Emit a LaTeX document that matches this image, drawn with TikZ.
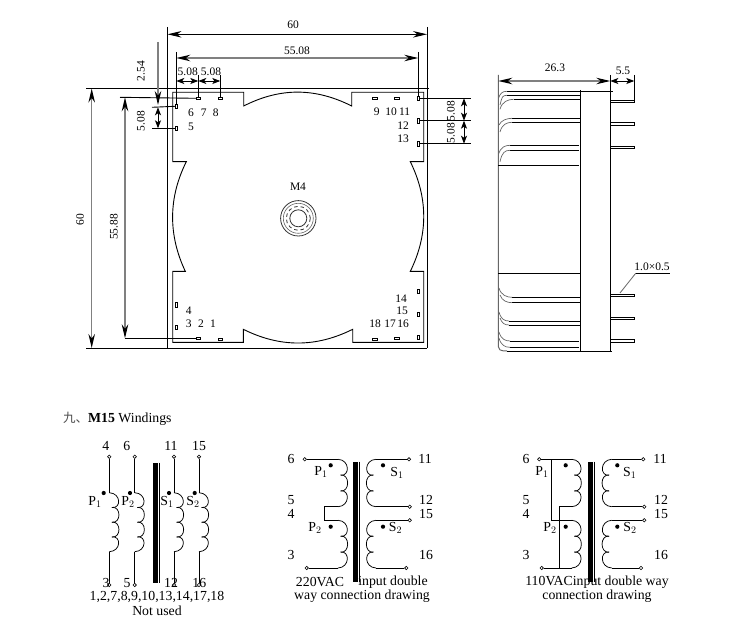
\documentclass[tikz,border=0pt]{standalone}
\usepackage{fontspec}
\setmainfont{Liberation Serif}
\newfontfamily\cjkfont{Noto Sans CJK SC}
\usetikzlibrary{arrows.meta}
\tikzset{
  txt/.style={inner sep=0pt,font=\fontsize{11.5}{12}\selectfont},
  big/.style={inner sep=0pt,font=\fontsize{13.8}{15}\selectfont},
  ln/.style={draw=black,line width=0.9pt},
  dimln/.style={draw=black!50,line width=1.2pt,{Stealth[length=14pt,width=6.5pt,inset=4.5pt,color=black]}-{Stealth[length=14pt,width=6.5pt,inset=4.5pt,color=black]}},
  dimblk/.style={draw=black,line width=.9pt,{Stealth[length=14pt,width=6.5pt,inset=4.5pt]}-{Stealth[length=14pt,width=6.5pt,inset=4.5pt]}},
  dimsh/.style={draw=black,line width=.9pt,{Stealth[length=8pt,width=6pt,inset=2pt]}-{Stealth[length=8pt,width=6pt,inset=2pt]}},
  pad/.style={draw=black,line width=.7pt,inner sep=0pt,fill=white,minimum width=4.4pt,minimum height=2.4pt},
  padv/.style={draw=black,line width=.7pt,inner sep=0pt,fill=white,minimum width=2.4pt,minimum height=4.4pt},
  term/.style={circle,draw=black,line width=.6pt,inner sep=0pt,minimum size=3.4pt,fill=white},
  dotn/.style={circle,fill=black,inner sep=0pt,minimum size=4.2pt},
  grv/.style={draw=black!60,line width=.7pt},
  wire/.style={draw=black,line width=.75pt},
  pin/.style={draw=black,line width=.8pt,fill=white},
}
% coil: x, ytop, ybottom, direction, humps
\newcommand{\coilv}[5]{%
  \pgfmathsetmacro{\hh}{(#3-#2)/#5}%
  \begin{scope}[shift={(#1,#2)},xscale=#4]
    \foreach \i in {1,...,#5}{%
      \pgfmathsetmacro{\ya}{(\i-1)*\hh}%
      \pgfmathsetmacro{\yb}{\i*\hh}%
      \ifnum\i=1
        \pgfmathsetmacro{\xa}{0}\pgfmathsetmacro{\cya}{\ya+.5}%
      \else
        \pgfmathsetmacro{\xa}{2.6}\pgfmathsetmacro{\cya}{\ya-1.5}%
      \fi
      \ifnum\i=#5
        \pgfmathsetmacro{\xb}{0}\pgfmathsetmacro{\cyb}{\yb-.5}%
      \else
        \pgfmathsetmacro{\xb}{2.6}\pgfmathsetmacro{\cyb}{\yb+1.5}%
      \fi
      \draw[wire] (\xa,\ya) .. controls (12,\cya) and (12,\cyb) .. (\xb,\yb);
    }
  \end{scope}}
\begin{document}
\begin{tikzpicture}[x=1pt,y=-1pt]
\useasboundingbox (0,0) rectangle (752,639);
\fill[white] (0,0) rectangle (752,639);
% reference lines of the plan
\coordinate (tl) at (167.5,27); \coordinate (bl) at (167.5,348);
\coordinate (tr) at (427,27); \coordinate (br) at (427,348);
\coordinate (ol) at (86,88.5); \coordinate (or) at (429,88.5);
\coordinate (ul) at (86,348);
\draw[ln] (tl) -- (bl); \draw[ln] (tr) -- (br);
\draw[ln] (ol) -- (or); \draw[ln] (ul) -- (br);
% outline
\draw[ln,line join=miter]
 (172.7,161.7) -- (172.7,92.3) -- (243.7,92.3) -- (243.7,106)
 .. controls (280,87.5) and (315,87.5) .. (351.7,106)
 -- (351.7,92.3) -- (423.7,92.3) -- (423.7,161.7) -- (410.3,161.7)
 .. controls (428.2,198) and (428.2,235) .. (410.3,271.3)
 -- (423.7,271.3) -- (423.7,342.3) -- (352.7,342.3) -- (352.7,329.3)
 .. controls (316,347.6) and (280,347.6) .. (243.3,329.3)
 -- (243.3,342.3) -- (172.7,342.3) -- (172.7,271.3) -- (185.3,271.3)
 .. controls (168.2,235) and (168.2,198) .. (186.3,161.7)
 -- cycle;
% extension lines
\coordinate (e55t) at (176.3,52); \coordinate (e55r) at (418.3,52);
\coordinate (e7) at (198.3,75); \coordinate (e8) at (220.3,75);
\coordinate (e6) at (176.3,75);
\node[pad] (p7) at (198.3,98.3) {}; \node[pad] (p8) at (220.3,98.3) {};
\node[pad] (p9) at (375,98.3) {}; \node[pad] (p10) at (397,98.3) {};
\node[padv] (p6) at (176.3,106.3) {}; \node[padv] (p5) at (176.3,128.3) {};
\node[padv] (p11) at (418.3,98.3) {}; \node[padv] (p12) at (418.3,120.7) {}; \node[padv] (p13) at (418.3,143.7) {};
\node[padv] (p4) at (176.3,305) {}; \node[padv] (p3) at (176.3,327.3) {};
\node[pad] (p2) at (198.3,338.3) {}; \node[pad] (p1) at (220.3,339.3) {};
\node[pad] (p18) at (375,339.3) {}; \node[pad] (p17) at (397,338.3) {};
\node[padv] (p14) at (418.3,291.3) {}; \node[padv] (p15) at (418.3,314.3) {}; \node[padv] (p16) at (418.3,337.3) {};
\draw[ln] (e55t) -- (p6.north); \draw[ln] (e55r) -- (p11.north);
\draw[ln] (e7) -- (p7.north); \draw[ln] (e8) -- (p8.north);
\coordinate (h254) at (120,97.3); \draw[ln] (h254) -- (p7.west);
\coordinate (h6) at (152,107.3); \draw[ln] (h6) -- (p6.west);
\coordinate (h5) at (152,128.3); \draw[ln] (h5) -- (p5.west);
\coordinate (h2) at (125,338.3); \draw[ln] (h2) -- (p2.west);
\coordinate (h11) at (470.7,98.3); \draw[ln] (p11.east) -- (h11);
\coordinate (h12) at (470.7,120.7); \draw[ln] (p12.east) -- (h12);
\coordinate (h13) at (470.7,143.7); \draw[ln] (p13.east) -- (h13);
% dimensions
\draw[dimblk] (167.5,34.3) -- (427,34.3);
\node[txt] (d60) at (293,25) {60};
\draw[dimln] (176.3,58) -- (418.3,58);
\node[txt] (d55) at (297,51) {55.08};
\draw[dimsh] (176.3,81) -- (198.3,81); \draw[dimsh] (198.3,81) -- (220.3,81);
\node[txt] (da) at (187.7,72) {5.08}; \node[txt] (db) at (211,72) {5.08};
\draw[draw=black!50,line width=1.2pt,-{Stealth[length=14pt,width=6.5pt,inset=4.5pt,color=black]}] (158,42) -- (158,105);
\node[txt,rotate=90] (d254) at (141,71) {2.54};
\draw[dimsh] (158,107.3) -- (158,128.3);
\node[txt,rotate=90] (d508l) at (141,121) {5.08};
\draw[dimln] (91.7,88.5) -- (91.7,348);
\node[txt,rotate=90] (d60v) at (80,220) {60};
\draw[dimln] (125,97.3) -- (125,338.3);
\node[txt,rotate=90] (d5588) at (114,227) {55.88};
\draw[dimsh] (464,98.3) -- (464,120.7); \draw[dimsh] (464,120.7) -- (464,143.7);
\node[txt,rotate=90] (dr1) at (451,111) {5.08}; \node[txt,rotate=90] (dr2) at (451,133) {5.08};
% pin numbers
\foreach \t/\x/\y in {6/191/113,7/203.7/113,8/215.7/113,5/191/127,9/376.7/112,10/391/112,11/404.7/112,12/403/126,13/403/139,4/188.7/311,3/188.7/323.7,2/201/323.7,1/213/323.7,14/401/299,15/402/311,18/375/323.5,17/390/323.5,16/403/323.5}
  \node[txt] (n\t) at (\x,\y) {\t};
\node[txt] (m4) at (298,187) {M4};
\draw[line width=.8pt,draw=black!80] (298.3,218.3) circle (17.7);
\draw[line width=.6pt,draw=black!60] (298.3,218.3) circle (15);
\draw[line width=.8pt,draw=black!80,dash pattern=on 3.5pt off 3pt] (298.3,218.3) circle (12);
\draw[line width=.8pt,draw=black!80] (298.3,218.3) circle (8.5);
% side view
\coordinate (sA) at (498.3,75); \coordinate (sB) at (610.3,75); \coordinate (sC) at (634.3,75);
\draw[grv,line width=1pt] (sA) -- (498.3,346.7) .. controls (498.3,349.5) and (500,351) .. (507,351);
\draw[ln] (507,351) -- (611.7,351);
\draw[ln] (580.3,90) -- (580.3,351);
\draw[ln] (610.3,75) -- (610.3,351);
\draw[ln] (sC) -- (634.3,101);
\draw[dimln] (498.3,81) -- (610.3,81);
\draw[dimsh] (610.3,81) -- (634.3,81);
\node[txt] (d263) at (555,68) {26.3};
\node[txt] (d55b) at (623,71) {5.5};
\draw[ln] (507,91.3) -- (612.7,91.3);
\foreach \xa/\ya/\xb/\yb in {507/95.3/580.3/95.3,513.7/99.3/580.3/99.3,512/118.3/580.3/118.3,512/122.3/580.3/122.3,510/145.3/579/145.3,510/150.3/579/150.3,498.3/165.3/579/165.3,498.3/273.3/580.3/273.3,512/297.3/580.3/297.3,512/302.7/580.3/302.7,509/321/580.3/321,509/325/580.3/325,510/341/579/341,510/347.3/579/347.3}
  \draw[ln] (\xa,\ya) -- (\xb,\yb);
\foreach \xa/\ya/\xb/\yb in {507/91.3/498.5/98,507/95.3/500/105,513.7/99.3/500/109.3,512/118.3/499/125,512/122.3/500/132,510/145.3/498.5/154,510/150.3/500/161.7}
  \draw[grv] (\xa,\ya) .. controls (\xa-5,\ya) and (\xb+2,\ya+2) .. (\xb,\yb);
\foreach \xa/\ya/\xb/\yb in {512/297.3/499/288,512/302.7/500/295,509/321/499/312,509/325/500/318,510/341/499/332,510/347.3/499/338}
  \draw[grv] (\xa,\ya) .. controls (\xa-5,\ya) and (\xb+2,\ya-2) .. (\xb,\yb);
% pins
\foreach \ya/\yb in {100.5/102,122.3/125.3,146/148.7,294.3/296.7,317.3/319.7,339.3/342.3}
  \draw[pin] (610.3,\ya) rectangle (634.3,\yb);
\coordinate (lead0) at (620,293); \coordinate (lead1) at (635.7,273.3); \coordinate (lead2) at (670,273.3);
\draw[draw=black!60,line width=.8pt] (lead0) -- (lead1);
\draw[ln,line width=.7pt] (lead1) -- (lead2);
\node[txt] (d105) at (652,267) {1.0×0.5};
% heading
\node[big,anchor=west] (head) at (63,418.5) {{\cjkfont\fontsize{12.5}{14}\selectfont\color{black!70}九、}\textbf{M15} Windings};
% winding diagram 1
\fill (152.7,462.7) rectangle (158,582.7);
\draw[line width=.8pt] (159.5,462.7) -- (159.5,582.7);
\foreach \n/\x/\dx in {a/109.3/103.7,b/134.7/130,c/174/169,d/199/194.7}{
  \node[term] (t\n) at (\x,456.7) {};
  \node[term] (b\n) at (\x,585) {};
  \coordinate (ct\n) at (\x,492.7); \coordinate (cb\n) at (\x,551.7);
  \draw[wire] (t\n) -- (ct\n); \draw[wire] (b\n) -- (cb\n);
  \coilv{\x}{492.7}{551.7}{1}{4}
  \node[dotn] (dot\n) at (\dx,493) {};
}
\node[big] (la4) at (105.7,446) {4}; \node[big] (la6) at (126.7,446) {6};
\node[big] (la11) at (171,446) {11}; \node[big] (la15) at (199,446) {15};
\node[big] (lb3) at (106,583) {3}; \node[big] (lb5) at (127,583) {5};
\node[big] (lb12) at (171,583) {12}; \node[big] (lb16) at (199.3,583) {16};
\node[big] (lp1) at (95,502) {P$_1$}; \node[big] (lp2) at (128,502) {P$_2$};
\node[big] (ls1) at (167,502) {S$_1$}; \node[big] (ls2) at (193,502) {S$_2$};
\node[big] (unused) at (157,597) {1,2,7,8,9,10,13,14,17,18};
\node[big] (nu) at (157,611) {Not used};
% winding diagram 2
\fill (353.3,461.7) rectangle (358,581.7);
\draw[line width=.8pt] (359.5,461.7) -- (359.5,581.7);
\node[term] (u6) at (304.7,459.3) {}; \node[term] (u3) at (306.7,568) {};
\node[term] (u11) at (409,459.3) {}; \node[term] (u12) at (409.7,506.7) {};
\node[term] (u15) at (409.7,520.3) {}; \node[term] (u16) at (406.3,568) {};
\coordinate (uc1) at (338,459.3); \coordinate (uc2) at (338,506.7);
\coordinate (uc3) at (338,520.3); \coordinate (uc4) at (338,568);
\coordinate (us1) at (376,459.3); \coordinate (us2) at (376,506.7);
\coordinate (us3) at (376,520.3); \coordinate (us4) at (376,568);
\coilv{338}{459.3}{506.7}{1}{3} \coilv{338}{520.3}{568}{1}{3}
\coilv{376}{459.3}{506.7}{-1}{3} \coilv{376}{520.3}{568}{-1}{3}
\draw[wire] (u6) -- (uc1); \draw[wire] (u3) -- (uc4);
\draw[wire] (uc2) -| (324.3,513.5) |- (uc3);
\draw[wire] (u11) -- (us1); \draw[wire] (u12) -- (us2);
\draw[wire] (u15) -- (us3); \draw[wire] (u16) -- (us4);
\foreach \n/\x/\y in {a/330.7/465.3,b/330.7/526.7,c/383/465.3,d/383/526.7}
  \node[dotn] (ud\n) at (\x,\y) {};
\foreach \n/\t/\x/\y in {a/6/291/459,b/5/291/500,c/4/291/514,d/3/291/555,e/11/425/459,f/12/426/500,g/15/426/514,h/16/426/555}
  \node[big] (ul\n) at (\x,\y) {\t};
\node[big] (up1) at (321,472) {P$_1$}; \node[big] (up2) at (315,528) {P$_2$};
\node[big] (us1l) at (397,473) {S$_1$}; \node[big] (us2l) at (395.5,528) {S$_2$};
\node[big] (uv) at (320,582) {220VAC};
\node[big] (ui) at (393,582) {input double};
\node[big] (uw) at (362,596) {way connection drawing};
% winding diagram 3
\fill (588.3,461.7) rectangle (593,581.7);
\draw[line width=.8pt] (594.5,461.7) -- (594.5,581.7);
\node[term] (v6) at (539.3,459.3) {}; \node[term] (v3) at (541.7,568) {};
\node[term] (v11) at (643.3,459.3) {}; \node[term] (v12) at (644.3,506.7) {};
\node[term] (v15) at (644.3,520.3) {}; \node[term] (v16) at (641,568) {};
\coordinate (vc1) at (571.7,459.3); \coordinate (vc2) at (571.7,506.7);
\coordinate (vc3) at (571.7,520.3); \coordinate (vc4) at (571.7,568);
\coordinate (vs1) at (611.7,459.3); \coordinate (vs2) at (611.7,506.7);
\coordinate (vs3) at (611.7,520.3); \coordinate (vs4) at (611.7,568);
\coilv{571.7}{459.3}{506.7}{1}{3} \coilv{571.7}{520.3}{568}{1}{3}
\coilv{611.7}{459.3}{506.7}{-1}{3} \coilv{611.7}{520.3}{568}{-1}{3}
\draw[wire] (v6) -- (vc1); \draw[wire] (v3) -- (vc4);
\draw[wire] (551.3,459.3) |- (vc3);
\draw[wire] (vc2) -| (559.3,568);
\draw[wire] (v11) -- (vs1); \draw[wire] (v12) -- (vs2);
\draw[wire] (v15) -- (vs3); \draw[wire] (v16) -- (vs4);
\foreach \n/\x/\y in {a/565.7/465.3,b/565.7/526.7,c/617.3/465.3,d/617.3/526.7}
  \node[dotn] (vd\n) at (\x,\y) {};
\foreach \n/\t/\x/\y in {a/6/526/459,b/5/526/500,c/4/526/514,d/3/526/555,e/11/660/459,f/12/661/500,g/15/661/514,h/16/661/555}
  \node[big] (vl\n) at (\x,\y) {\t};
\node[big] (vp1) at (542,472) {P$_1$}; \node[big] (vp2) at (550,528) {P$_2$};
\node[big] (vs1l) at (629.7,473) {S$_1$}; \node[big] (vs2l) at (630,528) {S$_2$};
\node[big] (vv) at (597,582) {110VACinput double way};
\node[big] (vw) at (597,596) {connection drawing};
\end{tikzpicture}
\end{document}
